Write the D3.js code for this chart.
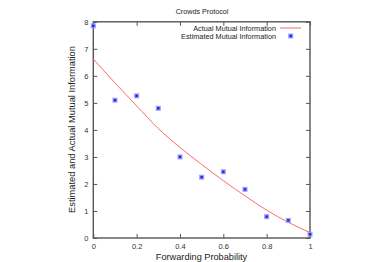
<!DOCTYPE html>
<html><head><meta charset="utf-8">
<script src="https://cdn.jsdelivr.net/npm/d3@7"></script>
<style>body{margin:0;background:#fff}svg{display:block}text{font-family:"Liberation Sans",Arial,sans-serif}</style>
</head><body><svg id="c" width="374" height="262"></svg>
<script>
const title = "Crowds Protocol";
const xLabel = "Forwarding Probability";
const yLabel = "Estimated and Actual Mutual Information";
const xTicks = [0, 0.2, 0.4, 0.6, 0.8, 1];
const xTickLabels = ["0", "0.2", "0.4", "0.6", "0.8", "1"];
const yTicks = [0, 1, 2, 3, 4, 5, 6, 7, 8];
const actualX = [0, 0.1, 0.2, 0.3, 0.4, 0.5, 0.6, 0.7, 0.8, 0.9, 1.0];
const actualY = [6.62, 5.74, 4.89, 4.05, 3.35, 2.72, 2.12, 1.56, 1.03, 0.58, 0.2];
const estX = [0, 0.1, 0.2, 0.3, 0.4, 0.5, 0.6, 0.7, 0.8, 0.9, 1.0];
const estY = [7.85, 5.1, 5.26, 4.8, 3.0, 2.25, 2.45, 1.8, 0.79, 0.65, 0.14];
const seriesNames = ["Actual Mutual Information", "Estimated Mutual Information"];

const svg = d3.select("#c");
const L = 93.3, R = 310, T = 21.8, B = 238;
const x = d3.scaleLinear().domain([0, 1]).range([L, R]);
const y = d3.scaleLinear().domain([0, 8]).range([B, T]);
const axisCol = "#555";
const font = '"Liberation Sans",Arial,sans-serif';

const tl = 4;
const gb = svg.append("g").attr("transform", `translate(0,${B})`)
  .call(d3.axisBottom(x).tickValues(xTicks).tickFormat((d, i) => xTickLabels[i]).tickSizeInner(-tl).tickSizeOuter(0).tickPadding(5.7));
const gt = svg.append("g").attr("transform", `translate(0,${T})`)
  .call(d3.axisTop(x).tickValues(xTicks).tickFormat("").tickSizeInner(-tl).tickSizeOuter(0));
const gl = svg.append("g").attr("transform", `translate(${L},0)`)
  .call(d3.axisLeft(y).tickValues(yTicks).tickFormat(d3.format("d")).tickSizeInner(-tl).tickSizeOuter(0).tickPadding(5));
const gr = svg.append("g").attr("transform", `translate(${R},0)`)
  .call(d3.axisRight(y).tickValues(yTicks).tickFormat("").tickSizeInner(-tl).tickSizeOuter(0));
[gb, gt, gl, gr].forEach(g => {
  g.select(".domain").remove();
  g.selectAll(".tick line").attr("stroke", axisCol).attr("stroke-width", 1);
  g.selectAll(".tick text").attr("fill", "#333").attr("font-size", 7.5).style("font-family", font);
});
svg.append("rect").attr("x", L).attr("y", T).attr("width", R - L).attr("height", B - T)
  .attr("fill", "none").attr("stroke", axisCol).attr("stroke-width", 1.4);

svg.append("text").attr("x", 202).attr("y", 13.5).attr("text-anchor", "middle")
  .attr("font-size", 7.2).attr("fill", "#222").text(title);
svg.append("text").attr("x", 201.5).attr("y", 260).attr("text-anchor", "middle")
  .attr("font-size", 9.2).attr("fill", "#222").text(xLabel);
svg.append("text").attr("transform", `translate(75,129.5) rotate(-90)`).attr("text-anchor", "middle")
  .attr("font-size", 9.3).attr("fill", "#222").text(yLabel);

const line = d3.line().x(d => x(d[0])).y(d => y(d[1])).curve(d3.curveMonotoneX);
svg.append("path").datum(actualX.map((v, i) => [v, actualY[i]]))
  .attr("d", line).attr("fill", "none").attr("stroke", "#ff6a6a").attr("stroke-width", 1);

function marker(g, cx, cy) {
  g.append("rect").attr("x", cx - 2.5).attr("y", cy - 2.5).attr("width", 5).attr("height", 5).attr("fill", "#9a9aff");
  g.append("rect").attr("x", cx - 1.2).attr("y", cy - 1.2).attr("width", 2.4).attr("height", 2.4).attr("fill", "#2222dd");
}
const gm = svg.append("g");
estX.forEach((v, i) => marker(gm, x(v), y(estY[i])));

const lx = 276;
svg.append("text").attr("x", lx).attr("y", 30.8).attr("text-anchor", "end").attr("font-size", 7.3).attr("fill", "#222").text(seriesNames[0]);
svg.append("line").attr("x1", 280).attr("x2", 301).attr("y1", 28).attr("y2", 28).attr("stroke", "#ff6a6a").attr("stroke-width", 1);
svg.append("text").attr("x", lx).attr("y", 38.8).attr("text-anchor", "end").attr("font-size", 7.3).attr("fill", "#222").text(seriesNames[1]);
marker(svg, 290.7, 36);
</script></body></html>
